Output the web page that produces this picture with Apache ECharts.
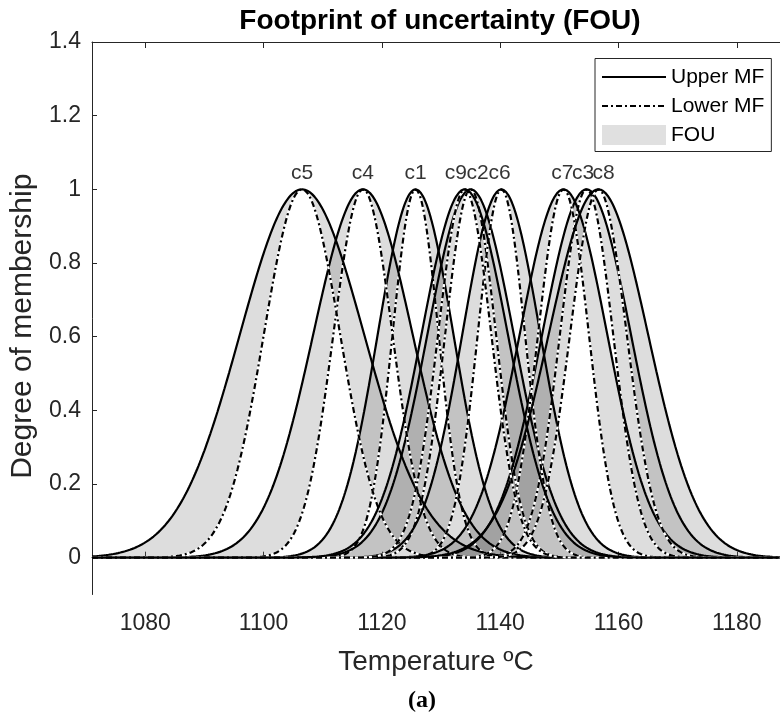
<!DOCTYPE html>
<html><head><meta charset="utf-8">
<script src="https://cdn.jsdelivr.net/npm/echarts@6/dist/echarts.min.js"></script>
<style>html,body{margin:0;padding:0;background:#fff}#c{width:780px;height:720px}</style>
</head><body><div id="c"></div>
<script>
// ---- data (Gaussian interval type-2 MFs) ----
const mfNames    = ['c1', 'c2', 'c3', 'c4', 'c5', 'c6', 'c7', 'c8', 'c9'];
const centers    = [1125.7, 1135.0, 1154.6, 1116.8, 1106.5, 1140.2, 1150.7, 1156.6, 1134.0];
const sigmaUpper = [6.4, 7.3, 7.5, 8.4, 10.5, 6.6, 7.4, 8.4, 7.3];
const sigmaLower = [3.9, 4.3, 4.5, 5.0, 6.45, 4.0, 4.3, 4.8, 4.5];
const labelX     = [1125.7, 1136.2, 1154.0, 1116.8, 1106.5, 1139.9, 1150.5, 1157.5, 1132.5];
const labelY     = 1.045;
const xTicks = [1080, 1100, 1120, 1140, 1160, 1180];
const yTicks = [0, 0.2, 0.4, 0.6, 0.8, 1, 1.2, 1.4];
const xRange = [1071, 1187.3];
const yRange = [-0.1, 1.4];
const legendNames = ['Upper MF', 'Lower MF', 'FOU'];
const titleText = 'Footprint of uncertainty (FOU)';
const xName = 'Temperature ºC';
const yName = 'Degree of membership';
const caption = '(a)';

// ---- build curves from the MF parameters ----
const step = 0.2;
const xs = [];
for (let x = xRange[0]; x <= xRange[1] + 1e-9; x += step) xs.push(+x.toFixed(3));
const gauss = (x, c, s) => Math.exp(-0.5 * ((x - c) / s) ** 2);

const FONT = '"Liberation Sans", Arial, sans-serif';
const AX = '#262626';
const series = [];
mfNames.forEach((n, i) => {
  const up = xs.map(x => gauss(x, centers[i], sigmaUpper[i]));
  const lo = xs.map(x => gauss(x, centers[i], sigmaLower[i]));
  series.push({
    name: 'FOU', type: 'custom', silent: true, clip: true,
    itemStyle: { color: '#e0e0e0' },
    data: [[centers[i], 1]], encode: { x: 0, y: 1 },
    renderItem: (params, api) => {
      const pts = [];
      for (let k = 0; k < xs.length; k++) pts.push(api.coord([xs[k], up[k]]));
      for (let k = xs.length - 1; k >= 0; k--) pts.push(api.coord([xs[k], lo[k]]));
      return { type: 'polygon', shape: { points: pts }, style: { fill: 'rgba(118,118,118,0.25)', stroke: null } };
    }
  });
  series.push({
    name: 'white_' + n, type: 'line', symbol: 'none', silent: true,
    data: xs.map((x, k) => [x, lo[k]]), lineStyle: { color: '#fff', width: 2.2 }
  });
  series.push({
    name: 'Lower MF', type: 'line', symbol: 'none', silent: true,
    data: xs.map((x, k) => [x, lo[k]]), lineStyle: { color: '#000', width: 2.2, type: [6, 3, 2, 3] }
  });
  series.push({
    name: 'Upper MF', type: 'line', symbol: 'none', silent: true,
    data: xs.map((x, k) => [x, up[k]]), lineStyle: { color: '#000', width: 2.2 }
  });
});
series.push({
  name: 'peaks', type: 'scatter', symbolSize: 1, silent: true,
  itemStyle: { color: 'rgba(0,0,0,0)' },
  data: mfNames.map((n, i) => ({ name: n, value: [labelX[i], labelY] })),
  label: { show: true, position: 'inside', formatter: p => p.name, color: '#000', fontSize: 21, fontFamily: FONT }
});

const chart = echarts.init(document.getElementById('c'), null, { renderer: 'canvas' });
chart.setOption({
  animation: false,
  backgroundColor: '#fff',
  grid: { left: 91, top: 42, right: 0, bottom: 125.5, containLabel: false },
  xAxis: [{
    type: 'value', min: xRange[0], max: xRange[1], position: 'bottom',
    axisLine: { lineStyle: { color: AX, width: 1 } },
    axisTick: { inside: true, length: 6, customValues: xTicks, lineStyle: { color: AX } },
    axisLabel: { customValues: xTicks, fontSize: 23, color: AX, fontFamily: FONT, margin: 18,
      formatter: v => String(v) },
    splitLine: { show: false },
    name: xName, nameLocation: 'middle', nameGap: 54,
    nameTextStyle: { fontSize: 28, color: AX, fontFamily: FONT }
  }, {
    type: 'value', min: xRange[0], max: xRange[1], position: 'top',
    axisLine: { lineStyle: { color: AX, width: 1 } },
    axisTick: { inside: true, length: 6, customValues: xTicks, lineStyle: { color: AX } },
    axisLabel: { show: false }, splitLine: { show: false }
  }],
  yAxis: {
    type: 'value', min: yRange[0], max: yRange[1],
    axisLine: { show: true, lineStyle: { color: AX, width: 1 } },
    axisTick: { show: true, inside: true, length: 5, customValues: yTicks, lineStyle: { color: AX } },
    axisLabel: { customValues: yTicks, fontSize: 23, color: AX, fontFamily: FONT, margin: 11,
      formatter: v => String(Math.round(v * 10) / 10) },
    splitLine: { show: false },
    name: yName, nameLocation: 'middle', nameGap: 54,
    nameTextStyle: { fontSize: 30, color: AX, fontFamily: FONT, padding: [0, 16, 0, 0] }
  },
  legend: {
    orient: 'vertical', left: 595, top: 58.5,
    padding: [8, 7, 6, 6], itemWidth: 64, itemHeight: 20, itemGap: 8, itemTextGap: 5,
    borderColor: AX, borderWidth: 1, backgroundColor: '#fff',
    textStyle: { fontSize: 21, color: '#000', fontFamily: FONT },
    selectedMode: false,
    data: [
      { name: legendNames[0], itemStyle: { opacity: 0 } },
      { name: legendNames[1], itemStyle: { opacity: 0 } },
      { name: legendNames[2], icon: 'rect', itemStyle: { color: '#e0e0e0', opacity: 1 } }
    ]
  },
  graphic: [
    { type: 'text', x: 440, y: 21, style: { text: titleText, textAlign: 'center', textVerticalAlign: 'middle',
      font: 'bold 28px "Liberation Sans", Arial, sans-serif', fill: '#000' } },
    { type: 'text', x: 422, y: 701, style: { text: caption, textAlign: 'center', textVerticalAlign: 'middle',
      font: 'bold 24px "Liberation Serif", "DejaVu Serif", serif', fill: '#000' } }
  ],
  series
});
</script></body></html>
